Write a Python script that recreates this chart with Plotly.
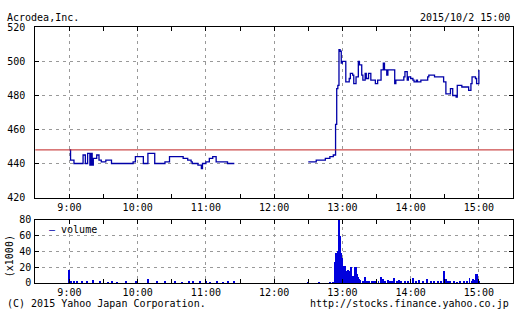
import plotly.graph_objects as go

DAY = "2015-10-02 "

title_text = "Acrodea,Inc."
date_text = "2015/10/2 15:00"
copyright_text = "(C) 2015 Yahoo Japan Corporation."
url_text = "http://stocks.finance.yahoo.co.jp"
volume_unit = "(x1000)"
volume_name = "volume"

prev_close = 448

am_times = ["09:00", "09:01", "09:04", "09:12", "09:14", "09:16", "09:18", "09:19", "09:20",
            "09:21", "09:24", "09:26", "09:28", "09:32", "09:37", "09:56", "09:58", "10:05",
            "10:09", "10:15", "10:24", "10:28", "10:40", "10:44", "10:47", "10:48", "10:53",
            "10:56", "10:57", "11:00", "11:03", "11:06", "11:09", "11:19", "11:25"]
am_prices = [448, 442, 440, 445, 440, 446, 439, 446, 439,
             443, 445, 442, 441, 442, 440, 441, 444, 440,
             446, 440, 441, 444, 443, 442, 441, 440, 439,
             437, 440, 441, 443, 444, 441, 440, 440]

pm_times = ["12:30", "12:37", "12:45", "12:49", "12:52", "12:54", "12:55", "12:56", "12:57",
            "12:58", "12:59", "13:00", "13:03", "13:06", "13:07", "13:09", "13:10", "13:12",
            "13:14", "13:15", "13:17", "13:18", "13:20", "13:21", "13:23", "13:25", "13:29",
            "13:31", "13:34", "13:36", "13:37", "13:39", "13:40", "13:46", "13:47", "13:54",
            "13:55", "13:57", "13:58", "14:00", "14:02", "14:03", "14:05", "14:06", "14:09",
            "14:15", "14:16", "14:21", "14:29", "14:31", "14:35", "14:37", "14:40", "14:41",
            "14:45", "14:51", "14:53", "14:54", "14:57", "14:58", "15:00"]
pm_prices = [441, 442, 443, 444, 445, 463, 484, 486, 507,
             506, 499, 500, 488, 490, 493, 492, 487, 491,
             500, 498, 492, 489, 493, 490, 493, 489, 487,
             489, 495, 499, 495, 492, 495, 487, 489, 491,
             494, 489, 491, 490, 489, 488, 489, 488, 489,
             491, 492, 491, 488, 481, 484, 480, 479, 486,
             485, 483, 487, 491, 490, 487, 495]

vol_times = ["09:00", "09:02", "09:04", "09:07", "09:11", "09:16", "09:21", "09:27", "09:34",
             "09:38", "09:42", "09:50", "09:59", "10:09", "10:17", "10:24", "10:33", "10:39",
             "10:45", "10:49", "10:55", "11:00", "11:04", "11:10", "11:15", "11:20", "11:25",
             "12:30", "12:40", "12:49", "12:52", "12:54", "12:55", "12:56", "12:57", "12:58",
             "12:59", "13:00", "13:01", "13:02", "13:03", "13:04", "13:05", "13:06", "13:07",
             "13:08", "13:09", "13:10", "13:11", "13:12", "13:13", "13:14", "13:15", "13:16",
             "13:18", "13:20", "13:22", "13:24", "13:26", "13:28", "13:30", "13:32", "13:34",
             "13:36", "13:38", "13:40", "13:42", "13:44", "13:46", "13:48", "13:50", "13:52",
             "13:55", "13:58", "14:02", "14:05", "14:08", "14:11", "14:15", "14:18", "14:21",
             "14:24", "14:27", "14:30", "14:31", "14:33", "14:35", "14:38", "14:41", "14:44",
             "14:47", "14:50", "14:52", "14:54", "14:55", "14:57", "14:58", "14:59", "15:00"]
vol_values = [17, 3, 2, 2, 2, 2, 4, 2, 1,
              3, 1, 2, 2, 5, 2, 2, 2, 1,
              2, 2, 2, 3, 1, 2, 1, 2, 2,
              1, 1, 1, 1, 26, 38, 40, 85, 60,
              38, 32, 10, 22, 21, 15, 17, 15, 10,
              20, 5, 9, 20, 20, 12, 7, 5, 4,
              3, 8, 3, 2, 3, 2, 3, 2, 8,
              5, 3, 4, 2, 3, 6, 2, 4, 2,
              2, 3, 6, 3, 4, 2, 5, 3, 2,
              3, 2, 15, 5, 3, 2, 2, 1, 2,
              3, 2, 6, 3, 5, 4, 11, 11, 3]

LINE_BLUE = "#0000a8"
BAR_BLUE = "#0000dd"
GRID = "#999999"
FONT = dict(family="DejaVu Sans Mono", size=10, color="black")
W, H = 520, 319

fig = go.Figure()
fig.add_trace(go.Scatter(x=[DAY + t for t in am_times], y=am_prices, mode="lines",
                         line=dict(color=LINE_BLUE, width=1.3, shape="hv"),
                         xaxis="x", yaxis="y", showlegend=False))
fig.add_trace(go.Scatter(x=[DAY + t for t in pm_times], y=pm_prices, mode="lines",
                         line=dict(color=LINE_BLUE, width=1.3, shape="hv"),
                         xaxis="x", yaxis="y", showlegend=False))
fig.add_trace(go.Bar(x=[DAY + t for t in vol_times], y=vol_values, name=volume_name,
                     marker=dict(color=BAR_BLUE, line_width=0), width=50000,
                     xaxis="x2", yaxis="y2", showlegend=False))

xdom = [35.3 / W, 513 / W]
common_x = dict(type="date", range=[DAY + "08:30", DAY + "15:30"], tick0=DAY + "09:00",
                dtick=3600000, tickformat="%-H:%M", showgrid=True, gridcolor=GRID,
                griddash="3px,4px", gridwidth=1, showline=True, linecolor="black", linewidth=1,
                mirror="ticks", ticks="inside", ticklen=4, tickcolor="black",
                zeroline=False, tickfont=FONT, domain=xdom,
                minor=dict(dtick=1800000, tick0=DAY + "08:30", ticks="inside", ticklen=4,
                           tickcolor="black", showgrid=False))
common_y = dict(showgrid=True, gridcolor=GRID, griddash="3px,4px", gridwidth=1, showline=True,
                linecolor="black", linewidth=1, mirror="ticks", ticks="inside", ticklen=4,
                tickcolor="black", zeroline=False, tickfont=FONT, dtick=20)

fig.update_layout(
    width=W, height=H, autosize=False,
    margin=dict(l=0, r=0, t=0, b=0),
    paper_bgcolor="white", plot_bgcolor="white",
    font=FONT, showlegend=False, bargap=0,
    xaxis=dict(common_x, anchor="y"),
    yaxis=dict(common_y, anchor="x", range=[420, 520],
               domain=[1 - 199 / H, 1 - 22.3 / H], ticklabelstandoff=7),
    xaxis2=dict(common_x, anchor="y2"),
    yaxis2=dict(common_y, anchor="x2", range=[0, 80],
                domain=[1 - 287.7 / H, 1 - 222.3 / H], ticklabelstandoff=1),
    shapes=[dict(type="line", xref="x domain", x0=0, x1=1, yref="y",
                 y0=prev_close, y1=prev_close, line=dict(color="#c02020", width=1))],
)

def ann(text, px, py, xanchor="left", yanchor="middle", **kw):
    fig.add_annotation(text=text, x=px / W, y=1 - py / H, xref="paper", yref="paper",
                       xanchor=xanchor, yanchor=yanchor, showarrow=False, font=FONT, **kw)

ann(title_text, 5, 11.5)
ann(date_text, 512, 12)
fig.layout.annotations[-1].xanchor = "right"
ann(copyright_text, 5, 309.5)
ann(url_text, 511, 309.5, xanchor="right")
ann(volume_unit, 9, 260, xanchor="center", textangle=-90)
ann("<span style='color:%s'>—</span> %s" % (LINE_BLUE, volume_name), 47, 232.5)

fig.write_html("out.html")
